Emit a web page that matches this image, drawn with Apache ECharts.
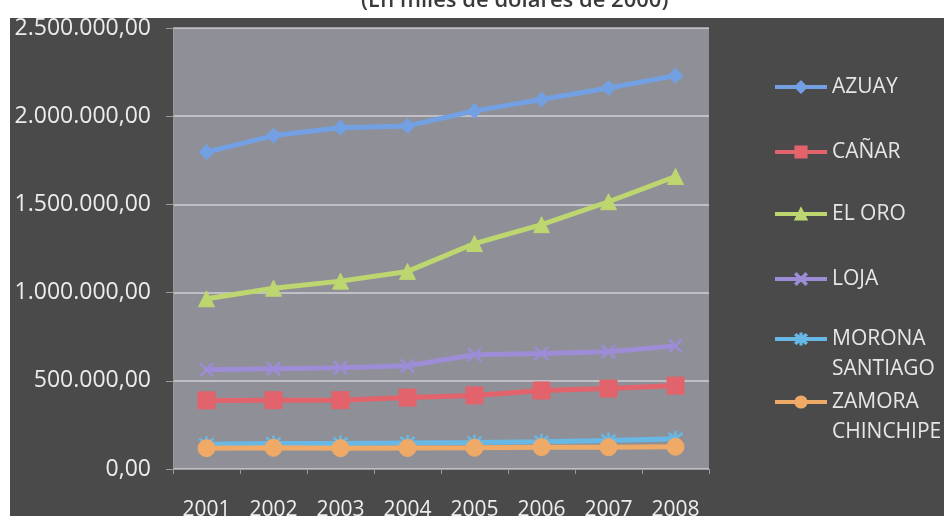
<!DOCTYPE html>
<html>
<head>
<meta charset="utf-8">
<script src="https://cdn.jsdelivr.net/npm/echarts@6/dist/echarts.min.js"></script>
<style>
  html, body { margin: 0; padding: 0; background: #ffffff; }
  #chart { width: 944px; height: 521px; }
</style>
</head>
<body>
<div id="chart"></div>
<script>
// Producto por provincia, región sur (miles de dólares de 2000)
const years = ['2001', '2002', '2003', '2004', '2005', '2006', '2007', '2008'];

const azuay  = [1796000, 1890000, 1935000, 1945000, 2030000, 2095000, 2160000, 2230000];
const canar  = [389000, 390000, 390000, 405000, 417000, 445000, 456000, 473000];
const elOro  = [965000, 1025000, 1065000, 1120000, 1278000, 1385000, 1515000, 1658000];
const loja   = [563000, 568000, 574000, 585000, 648000, 655000, 665000, 698000];
const morona = [140000, 145000, 145000, 148000, 150000, 155000, 162000, 172000];
const zamora = [118000, 120000, 118000, 119000, 120000, 124000, 123000, 126000];

const yTicks = { min: 0, max: 2500000, step: 500000 };

const names = ['AZUAY', 'CAÑAR', 'EL ORO', 'LOJA', 'MORONA SANTIAGO', 'ZAMORA CHINCHIPE'];
// Two-word names wrap; a blank leading line keeps the first word level with the key
const legendLabels = ['AZUAY', 'CAÑAR', 'EL ORO', 'LOJA', ' \nMORONA\nSANTIAGO', ' \nZAMORA\nCHINCHIPE'];
const seriesData = [azuay, canar, elOro, loja, morona, zamora];

const colors = ['#72a0e2', '#e2636c', '#bdd670', '#9d8cd6', '#68b8e6', '#f0aa68'];
const crossPath = 'path://M0,2L2,0L10,8L18,0L20,2L12,10L20,18L18,20L10,12L2,20L0,18L8,10Z';
const starPath = 'path://M0,2L2,0L10,8L18,0L20,2L12,10L20,18L18,20L10,12L2,20L0,18L8,10Z M9,-2L11,-2L11,22L9,22Z';
const symbols = ['diamond', 'rect', 'triangle', crossPath, starPath, 'circle'];
const symbolSizes = [15, 17, 16, 14, 15, 17];

// Thousands with dots, decimals with comma
function fmtNumber(v) {
  const s = Math.round(v).toString().replace(/\B(?=(\d{3})+(?!\d))/g, '.');
  return s + ',00';
}

const legendTops = [85, 150, 212, 277, 337, 400];

const chart = echarts.init(document.getElementById('chart'), null, { renderer: 'canvas' });

const option = {
  animation: false,
  backgroundColor: '#ffffff',
  textStyle: { fontFamily: '"Open Sans", sans-serif' },
  title: {
    text: '(En miles de dólares de 2000)',
    left: 356,
    top: -15,
    textStyle: { fontFamily: '"Open Sans", sans-serif', fontSize: 22, fontWeight: 600, color: '#3a3a3a' }
  },
  graphic: [{
    type: 'rect',
    z: -10,
    shape: { x: 10, y: 18, width: 934, height: 498 },
    style: { fill: '#4a4a4b' },
    silent: true
  }],
  grid: {
    left: 173, right: 235, top: 28, bottom: 51,
    show: true,
    backgroundColor: '#8f9097',
    borderWidth: 0
  },
  legend: names.map((n, i) => ({
    data: [n],
    orient: 'vertical',
    left: 773,
    top: legendTops[i] - (i >= 4 ? 43 : 13),
    itemWidth: 52,
    itemHeight: 14,
    itemGap: 0,
    padding: 0,
    selectedMode: false,
    lineStyle: { width: 4 },
    formatter: () => legendLabels[i],
    textStyle: {
      color: '#e6e6e6',
      fontSize: 21,
      lineHeight: 30,
      fontFamily: '"Open Sans", sans-serif'
    }
  })),
  xAxis: {
    type: 'category',
    data: years,
    boundaryGap: true,
    axisLine: { show: true, lineStyle: { color: '#9a9a9a', width: 1 } },
    axisTick: { show: true, length: 5, lineStyle: { color: '#9a9a9a' } },
    axisLabel: { color: '#eeeeee', fontSize: 21, margin: 31, fontFamily: '"Open Sans", sans-serif' },
    splitLine: { show: false }
  },
  yAxis: {
    type: 'value',
    min: yTicks.min,
    max: yTicks.max,
    interval: yTicks.step,
    axisLine: { show: true, lineStyle: { color: '#9a9a9a', width: 1 } },
    axisTick: { show: true, length: 7, lineStyle: { color: '#9a9a9a' } },
    axisLabel: {
      color: '#ececec', fontSize: 23, margin: 22,
      fontFamily: '"Open Sans", sans-serif',
      formatter: fmtNumber
    },
    splitLine: { show: true, lineStyle: { color: 'rgba(235,235,240,0.7)', width: 1.5 } }
  },
  series: seriesData.map((d, i) => ({
    name: names[i],
    type: 'line',
    data: d,
    symbol: symbols[i],
    symbolSize: symbolSizes[i],
    showAllSymbol: true,
    lineStyle: { color: colors[i], width: 5 },
    itemStyle: { color: colors[i], borderColor: colors[i], borderWidth: 1 },
    z: 2 + i
  }))
};

chart.setOption(option);
</script>
</body>
</html>
